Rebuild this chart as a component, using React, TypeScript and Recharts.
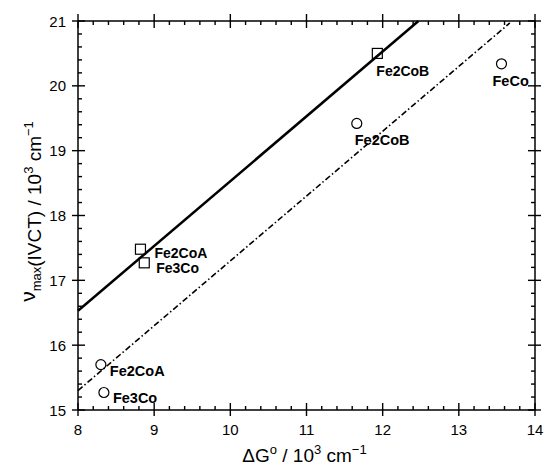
import { ScatterChart, Scatter, XAxis, YAxis, ReferenceLine, Label } from "recharts";

// axis ticks (major), minors are 0.2 apart
const xMajorTicks = [8, 9, 10, 11, 12, 13, 14];
const yMajorTicks = [15, 16, 17, 18, 19, 20, 21];

// open squares
const squareNames = ["Fe2CoA", "Fe3Co", "Fe2CoB"];
const squareX = [8.82, 8.87, 11.93];
const squareY = [17.48, 17.27, 20.5];

// open circles
const circleNames = ["Fe2CoA", "Fe3Co", "Fe2CoB", "FeCo"];
const circleX = [8.3, 8.34, 11.66, 13.56];
const circleY = [15.7, 15.27, 19.42, 20.34];

// fitted lines (end points)
const solidFitX = [8, 12.47];
const solidFitY = [16.53, 21];
const dashFitX = [8, 13.67];
const dashFitY = [15.3, 20.97];

const FONT = "'Liberation Sans', Arial, sans-serif";

const W = 545;
const H = 466;
const margin = { top: 21, right: 10, bottom: 6, left: 0 };
const X0 = 8, X1 = 14, Y0 = 15, Y1 = 21;

const squareLabelOffsets: Record<string, [number, number]> = {
  Fe2CoA: [14, 9],
  Fe3Co: [12, 10],
  Fe2CoB: [-1, 23],
};
const circleLabelOffsets: Record<string, [number, number]> = {
  Fe2CoA: [9, 11],
  Fe3Co: [9, 11],
  Fe2CoB: [-2, 22],
  FeCo: [-9, 22],
};

const withMinor = (majors: number[]) =>
  majors.flatMap((m, i) =>
    i === majors.length - 1 ? [m] : [0, 1, 2, 3, 4].map((k) => +(m + k * 0.2).toFixed(1))
  );

const xTicks = withMinor(xMajorTicks);
const yTicks = withMinor(yMajorTicks);

const squares = squareNames.map((name, i) => ({ name, x: squareX[i], y: squareY[i] }));
const circles = circleNames.map((name, i) => ({ name, x: circleX[i], y: circleY[i] }));

const isMajor = (v: number) => Math.abs(v - Math.round(v)) < 1e-6;

// tick marks drawn as small filled bars at both ends of a reference line
const xTickShape = (major: boolean) => (p: any) => {
  const x = Number(p.x2 ?? p.x1);
  const ya = Number(p.y1);
  const yb = Number(p.y2 ?? p.y1);
  const top = Math.min(ya, yb);
  const bot = Math.max(ya, yb);
  return (
    <g>
      <rect x={x - 0.7} y={major ? top - 7 : top} width={1.4} height={major ? 14 : 4} fill="#000" />
      <rect x={x - 0.7} y={major ? bot - 7 : bot - 4} width={1.4} height={major ? 13 : 4} fill="#000" />
    </g>
  );
};

const yTickShape = (major: boolean) => (p: any) => {
  const y = Number(p.y1 ?? p.y2);
  const xa = Number(p.x1 ?? p.x2);
  const xb = Number(p.x2);
  const left = Math.min(xa, xb);
  const right = Math.max(xa, xb);
  return (
    <g>
      <rect x={major ? left - 6 : left} y={y - 0.7} width={major ? 13 : 4} height={1.4} fill="#000" />
      <rect x={major ? right - 7 : right - 4} y={y - 0.7} width={major ? 13 : 4} height={1.4} fill="#000" />
    </g>
  );
};

const BottomLabel = (props: any) =>
  isMajor(props.payload.value) ? (
    <text x={props.x} y={props.y + 23} textAnchor="middle" fontSize={15} fontFamily={FONT} fill="#000">
      {props.payload.value}
    </text>
  ) : (
    <g />
  );

const LeftLabel = (props: any) =>
  isMajor(props.payload.value) ? (
    <text x={props.x - 10} y={props.y + 5.5} textAnchor="end" fontSize={15} fontFamily={FONT} fill="#000">
      {props.payload.value}
    </text>
  ) : (
    <g />
  );

const SquareShape = (props: any) => {
  const { cx, cy, payload } = props;
  const [dx, dy] = squareLabelOffsets[payload.name];
  return (
    <g>
      <rect x={cx - 5} y={cy - 5} width={10} height={10} fill="none" stroke="#000" strokeWidth={1.2} />
      <text x={cx + dx} y={cy + dy} fontSize={14} fontWeight="bold" fontFamily={FONT} fill="#000">
        {payload.name}
      </text>
    </g>
  );
};

const CircleShape = (props: any) => {
  const { cx, cy, payload } = props;
  const [dx, dy] = circleLabelOffsets[payload.name];
  return (
    <g>
      <circle cx={cx} cy={cy} r={5} fill="none" stroke="#000" strokeWidth={1.2} />
      <text x={cx + dx} y={cy + dy} fontSize={14.5} fontWeight="bold" fontFamily={FONT} fill="#000">
        {payload.name}
      </text>
    </g>
  );
};

const YTitle = (props: any) => {
  const { viewBox } = props;
  const cx = viewBox.x + 41;
  const cy = viewBox.y + viewBox.height / 2 - 4;
  return (
    <text
      x={cx}
      y={cy}
      transform={`rotate(-90, ${cx}, ${cy})`}
      textAnchor="middle"
      fontSize={19}
      fontFamily={FONT}
      fill="#000"
    >
      <tspan dy={-6} fontSize={21}>ν</tspan>
      <tspan fontSize={13} dy={6}>max</tspan>
      <tspan>(IVCT) / 10</tspan>
      <tspan fontSize={13} dy={-8}>3</tspan>
      <tspan dy={8}> cm</tspan>
      <tspan fontSize={13} dy={-8}>−1</tspan>
    </text>
  );
};

const XTitle = (props: any) => {
  const { viewBox } = props;
  const cx = viewBox.x + viewBox.width / 2 - 2;
  const cy = viewBox.y + 52;
  return (
    <text x={cx} y={cy} textAnchor="middle" fontSize={19} fontFamily={FONT} fill="#000">
      <tspan>ΔG</tspan>
      <tspan fontSize={13} dy={-8}>o</tspan>
      <tspan dy={8}> / 10</tspan>
      <tspan fontSize={13} dy={-8}>3</tspan>
      <tspan dy={8}> cm</tspan>
      <tspan fontSize={13} dy={-8}>−1</tspan>
    </text>
  );
};

const axisLine = { stroke: "#000", strokeWidth: 1.5 };

export default function App() {
  return (
    <div style={{ position: "absolute", left: 0, top: 0, width: W, height: H }}>
      <ScatterChart width={W} height={H} margin={margin}>
        <XAxis
          xAxisId="bottom"
          type="number"
          dataKey="x"
          domain={[X0, X1]}
          ticks={xMajorTicks}
          interval={0}
          height={50}
          tickSize={0}
          tickLine={false}
          axisLine={axisLine}
          tick={BottomLabel}
        >
          <Label content={<XTitle />} />
        </XAxis>
        <YAxis
          yAxisId="left"
          type="number"
          dataKey="y"
          domain={[Y0, Y1]}
          ticks={yMajorTicks}
          interval={0}
          width={78}
          tickSize={0}
          tickLine={false}
          axisLine={axisLine}
          tick={LeftLabel}
        >
          <Label content={<YTitle />} />
        </YAxis>
        {/* frame: top and right sides */}
        <ReferenceLine xAxisId="bottom" yAxisId="left" y={Y1} stroke="#000" strokeWidth={1.5} />
        <ReferenceLine xAxisId="bottom" yAxisId="left" x={X1} stroke="#000" strokeWidth={1.5} />
        {xTicks.map((v) => (
          <ReferenceLine key={`xt${v}`} xAxisId="bottom" yAxisId="left" x={v} stroke="#000" shape={xTickShape(isMajor(v))} />
        ))}
        {yTicks.map((v) => (
          <ReferenceLine key={`yt${v}`} xAxisId="bottom" yAxisId="left" y={v} stroke="#000" shape={yTickShape(isMajor(v))} />
        ))}
        <ReferenceLine
          xAxisId="bottom"
          yAxisId="left"
          segment={[
            { x: solidFitX[0], y: solidFitY[0] },
            { x: solidFitX[1], y: solidFitY[1] },
          ]}
          stroke="#000"
          strokeWidth={2.5}
        />
        <ReferenceLine
          xAxisId="bottom"
          yAxisId="left"
          segment={[
            { x: dashFitX[0], y: dashFitY[0] },
            { x: dashFitX[1], y: dashFitY[1] },
          ]}
          stroke="#000"
          strokeWidth={1.6}
          strokeDasharray="6 2.5 1.5 2.5"
        />
        <Scatter
          xAxisId="bottom"
          yAxisId="left"
          data={squares}
          shape={<SquareShape />}
          isAnimationActive={false}
        />
        <Scatter
          xAxisId="bottom"
          yAxisId="left"
          data={circles}
          shape={<CircleShape />}
          isAnimationActive={false}
        />
      </ScatterChart>
    </div>
  );
}
